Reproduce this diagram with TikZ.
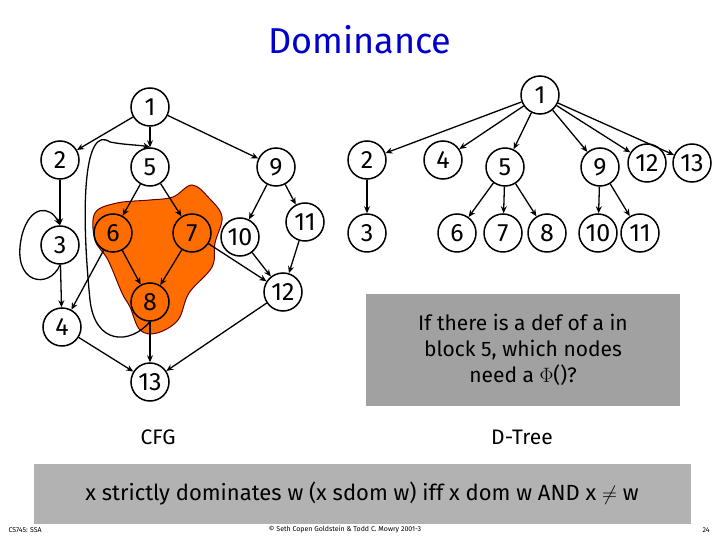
\documentclass[tikz,border=0pt]{standalone}
\usepackage{fontspec}
\setmainfont{Fira Sans}
\usetikzlibrary{arrows.meta}
\begin{document}
\begin{tikzpicture}[x=1pt,y=-1pt,
  n/.style={circle,draw,line width=1.5pt,minimum size=38pt,inner sep=0pt,font=\fontsize{25}{25}\selectfont},
  e/.style={-{Stealth[length=7pt,width=6pt]},line width=1.3pt},
  lbl/.style={font=\fontsize{21}{24}\selectfont}]
\useasboundingbox (0,0) rectangle (720,540);
\node[font=\fontsize{36}{36}\selectfont,text=blue!80!black] (t) at (360,40) {Dominance};
% blob
\fill[orange!85!red,draw=black!60!red,line width=1pt] plot[smooth cycle,tension=0.6] coordinates{(95,213)(117,203)(150,200)(173,197)(192,185)(209,198)(222,217)(215,243)(212,267)(189,293)(178,320)(157,333)(140,330)(130,307)(122,293)(108,260)(95,240)};
% CFG
\node[n] (c1) at (150,107) {1};
\node[n] (c2) at (60,160) {2};
\node[n] (c5) at (150,167) {5};
\node[n] (c9) at (276,167) {9};
\node[n] (c3) at (60,245) {3};
\node[n] (c6) at (113,233) {6};
\node[n] (c7) at (192,233) {7};
\node[n] (c10) at (240,237) {10};
\node[n] (c11) at (305,222) {11};
\node[n] (c12) at (283,292) {12};
\node[n] (c8) at (150,302) {8};
\node[n] (c4) at (62,327) {4};
\node[n] (c13) at (150,382) {13};
\foreach \a/\b in {c1/c2,c1/c5,c1/c9,c2/c3,c3/c4,c5/c6,c5/c7,c6/c4,c6/c8,c7/c8,c7/c12,c9/c10,c9/c11,c10/c12,c11/c12,c8/c13,c4/c13,c12/c13}
  \draw[e] (\a) -- (\b);
\draw[e] (c3.south) .. controls (50,290) and (10,285) .. (22,235) .. controls (30,205) and (50,205) .. (c3.north);
\draw[e] (c8.south) .. controls (130,345) and (95,345) .. (90,300) .. controls (80,200) and (85,125) .. (110,142) .. controls (125,145) and (140,145) .. (c5.north);
\node[lbl] (cfg) at (158,437) {CFG};
% D-tree
\node[n] (d1) at (540,95) {1};
\node[n] (d2) at (367,160) {2};
\node[n] (d4) at (443,160) {4};
\node[n] (d5) at (505,167) {5};
\node[n] (d9) at (600,167) {9};
\node[n] (d12) at (647,163) {12};
\node[n] (d13) at (692,163) {13};
\node[n] (d3) at (367,233) {3};
\node[n] (d6) at (457,233) {6};
\node[n] (d7) at (503,233) {7};
\node[n] (d8) at (547,233) {8};
\node[n] (d10) at (598,233) {10};
\node[n] (d11) at (640,233) {11};
\foreach \a/\b in {d1/d2,d1/d4,d1/d5,d1/d9,d1/d12,d1/d13,d2/d3,d5/d6,d5/d7,d5/d8,d9/d10,d9/d11}
  \draw[e] (\a) -- (\b);
\node[fill=black!37,minimum width=314pt,minimum height=112pt,align=center,font=\fontsize{21}{26}\selectfont] (q) at (523,350) {If there is a def of a in\\block 5, which nodes\\need a $\Phi$()?};
\node[lbl] (dt) at (522,437) {D-Tree};
\node[fill=black!30,minimum width=657pt,minimum height=60pt,font=\fontsize{22}{26}\selectfont] (b) at (362,494) {x strictly dominates w (x sdom w) iff x dom w AND x $\neq$ w};
\node[font=\fontsize{7}{8}\selectfont,anchor=west] (f1) at (5,530) {CS745: SSA};
\node[font=\fontsize{7}{8}\selectfont] (f2) at (345,530) {\textcopyright{} Seth Copen Goldstein \& Todd C. Mowry 2001-3};
\node[font=\fontsize{7}{8}\selectfont] (f3) at (706,530) {24};
\end{tikzpicture}
\end{document}
